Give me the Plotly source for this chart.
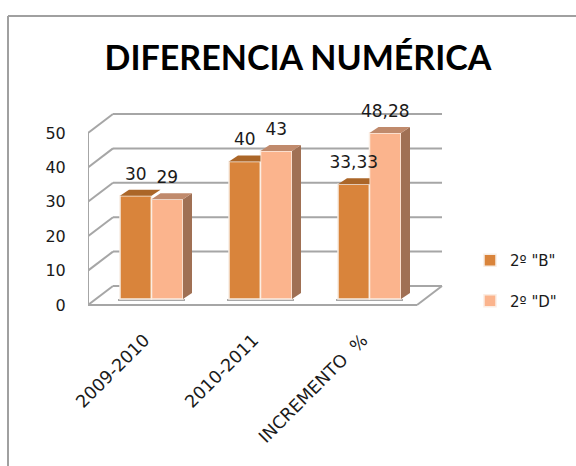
import plotly.graph_objects as go

categories = ["2009-2010", "2010-2011", "INCREMENTO\u00a0\u00a0%"]
series_b = [30, 40, 33.33]
series_d = [29, 43, 48.28]
y_ticks = [0, 10, 20, 30, 40, 50]
name_b = '2º "B"'
name_d = '2º "D"'
title = "DIFERENCIA NUMÉRICA"

W, H = 576, 466
ML, MR, MT, MB = 88, 128, 100, 156
PW, PH = W - ML - MR, H - MT - MB
X_UNIT, Y_UNIT = 109.0, 3.44      # px per category, px per value
X0_PX, Y0_PX = 151.5, 305.0       # pixel position of category 0 / value 0
FONT = "DejaVu Sans"

px_x = lambda p: p / X_UNIT
px_y = lambda p: p / Y_UNIT
x_range = [(ML - X0_PX) / X_UNIT, (W - MR - X0_PX) / X_UNIT]
y_range = [(Y0_PX - (H - MB)) / Y_UNIT, (Y0_PX - MT) / Y_UNIT]
paper_x = lambda p: (p - ML) / PW
paper_y = lambda p: 1 - (p - MT) / PH

x_pos = list(range(len(categories)))
bar_w = 0.289
bar_base = px_y(6)
bar_dx, bar_dy = px_x(9), px_y(6)
wall_dx, wall_dy = px_x(25), px_y(19)
x_left, x_right = x_range[0], x_range[0] + px_x(329)

C_B, C_D = "#D9843B", "#FBB48D"
C_B_TOP, C_D_TOP = "#AB6628", "#C08A6C"
C_D_SIDE = "#A07054"
C_GRID = "#A6A6A6"
C_TEXT = "#1a1a1a"

shapes = []


def seg(x0, y0, x1, y1, color=C_GRID, width=2):
    shapes.append(dict(type="line", xref="x", yref="y", layer="below", x0=x0, y0=y0, x1=x1, y1=y1,
                       line=dict(color=color, width=width)))


# outer chart frame
for a, b, c, d in [(8, 16, W, 16), (8, 16, 8, H)]:
    shapes.append(dict(type="line", xref="paper", yref="paper", x0=paper_x(a), y0=paper_y(b),
                       x1=paper_x(c), y1=paper_y(d), line=dict(color="#A0A0A0", width=2)))

# walls and gridlines
for t in y_ticks:
    seg(x_left, t, x_left + wall_dx, t + wall_dy)
    if t > 0:
        seg(x_left + wall_dx, t + wall_dy, x_right + wall_dx, t + wall_dy)
seg(x_left, 0, x_left, y_ticks[-1])
# floor
seg(x_left, 0, x_right, 0)
seg(x_right, 0, x_right + wall_dx, wall_dy)
seg(x_right - px_x(12), wall_dy, x_right + wall_dx, wall_dy)
seg(x_left + wall_dx, wall_dy, x_left + wall_dx + px_x(7), wall_dy)
# bar shadows on the floor
for x in x_pos:
    seg(x - bar_w - px_x(2), bar_base - px_y(1), x + bar_w + px_x(2), bar_base - px_y(1), "#A8A8A8", 2)

fig = go.Figure()
fig.add_trace(go.Bar(x=x_pos, y=series_b, base=bar_base, name=name_b, offsetgroup="b", legendgroup="b",
                     marker=dict(color=C_B, line=dict(color="#F7EDE4", width=1.5))))
fig.add_trace(go.Bar(x=x_pos, y=series_d, base=bar_base, name=name_d, offsetgroup="d", legendgroup="d",
                     marker=dict(color=C_D, line=dict(color="#FBEDE3", width=1.5))))


def poly(xs, ys, color):
    fig.add_trace(go.Scatter(x=xs + xs[:1], y=[v + bar_base for v in ys + ys[:1]], mode="lines", fill="toself",
                             fillcolor=color, line=dict(width=0), showlegend=False, hoverinfo="skip"))


for x, b, d in zip(x_pos, series_b, series_d):
    xr_d = x + bar_w
    poly([xr_d, xr_d + bar_dx, xr_d + bar_dx, xr_d], [0, bar_dy, d + bar_dy, d], C_D_SIDE)
    poly([x, x + bar_dx, xr_d + bar_dx, xr_d], [d, d + bar_dy, d + bar_dy, d], C_D_TOP)
    xl_b = x - bar_w
    if b > d:
        poly([xl_b, xl_b + bar_dx, x + bar_dx, x], [b, b + bar_dy, b + bar_dy, b], C_B_TOP)
    else:
        poly([xl_b, xl_b + bar_dx, x, x], [b, b + bar_dy, b + bar_dy, b], C_B_TOP)

# data labels
fmt = lambda v: f"{v:g}".replace(".", ",")
for series, shift in [(series_b, -bar_w / 2), (series_d, bar_w / 2)]:
    fig.add_trace(go.Scatter(x=[x + shift for x in x_pos], y=[v + bar_base + bar_dy + px_y(6) for v in series],
                             mode="text", text=[fmt(v) for v in series], textposition="top center",
                             textfont=dict(family=FONT, size=17, color=C_TEXT),
                             showlegend=False, hoverinfo="skip"))

fig.update_layout(
    width=W, height=H, autosize=False,
    margin=dict(l=ML, r=MR, t=MT, b=MB),
    paper_bgcolor="white", plot_bgcolor="white",
    barmode="group", bargap=0.422, bargroupgap=0,
    shapes=shapes,
    title=dict(text=title, x=298 / W, xanchor="center", y=1 - 58 / H, yanchor="middle",
               font=dict(family="Lato", size=34, color="black", weight="bold")),
    legend=dict(x=paper_x(470), y=paper_y(244), xanchor="left", yanchor="top", tracegroupgap=18,
                bgcolor="rgba(0,0,0,0)", font=dict(family=FONT, size=15, color=C_TEXT)),
    xaxis=dict(range=x_range, tickmode="array", tickvals=[x - px_x(7) for x in x_pos], ticktext=categories,
               tickangle=-45, showgrid=False, zeroline=False, showline=False, ticks="outside", ticklen=12,
               tickcolor="rgba(0,0,0,0)", tickfont=dict(family=FONT, size=17.5, color=C_TEXT)),
    yaxis=dict(range=y_range, tickmode="array", tickvals=y_ticks, showgrid=False, zeroline=False,
               showline=False, ticks="outside", ticklen=18, tickcolor="rgba(0,0,0,0)",
               tickfont=dict(family=FONT, size=16, color=C_TEXT)),
)
fig.write_html("out.html", config={"displayModeBar": False}, post_script="document.body.style.margin='0';")
